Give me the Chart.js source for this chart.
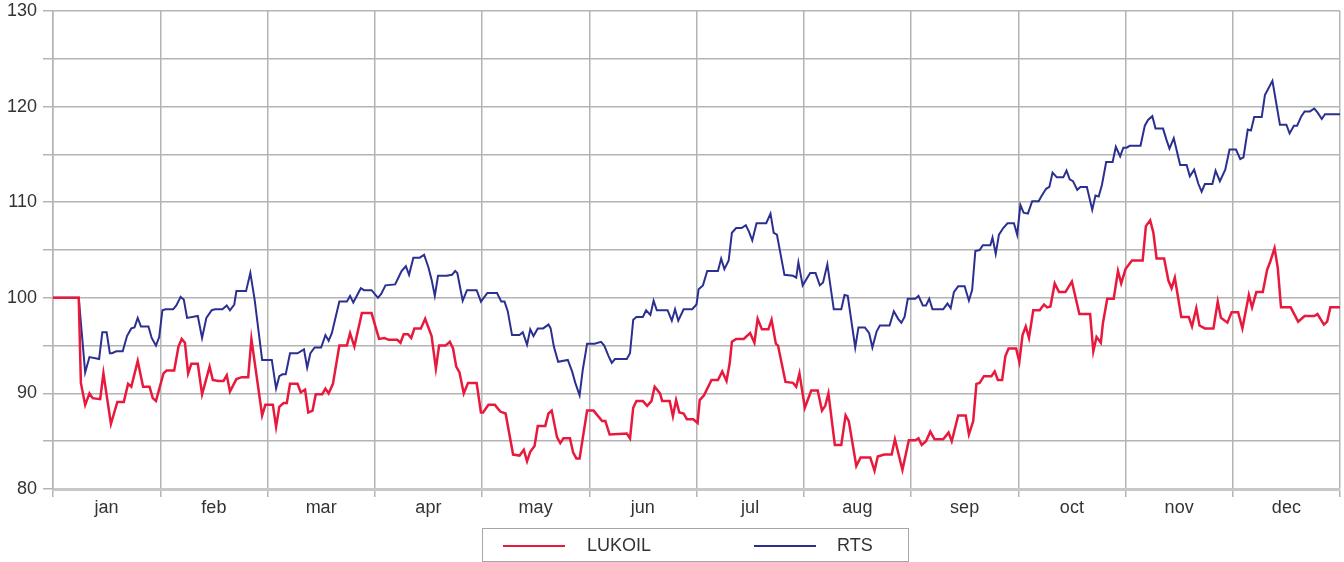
<!DOCTYPE html>
<html><head><meta charset="utf-8">
<script src="https://cdn.jsdelivr.net/npm/chart.js@4.4.0/dist/chart.umd.min.js"></script>
<style>
html,body{margin:0;padding:0;background:#fff;}
#wrap{position:relative;width:1344px;height:562px;}
#legend{position:absolute;left:482px;top:528px;width:427px;height:34px;border:1px solid #a6a6a6;box-sizing:border-box;font:18px "Liberation Sans",Arial,sans-serif;color:#333;}
#legend .ln{position:absolute;top:16px;width:62px;height:2px;}
#legend .tx{position:absolute;top:5px;line-height:22px;}
</style>
</head><body>
<div id="wrap">
<canvas id="c" width="1344" height="562"></canvas>
<div id="legend">
  <div class="ln" style="left:20px;background:#e8193c;"></div><div class="tx" style="left:104px;">LUKOIL</div>
  <div class="ln" style="left:271px;background:#2b3090;"></div><div class="tx" style="left:354px;">RTS</div>
</div>
</div>
<script>
const months = ['jan','feb','mar','apr','may','jun','jul','aug','sep','oct','nov','dec'];
const yMin = 80, yMax = 130, yStep = 5;

const lukoilX = [0.00,0.24,0.26,0.30,0.34,0.37,0.44,0.47,0.54,0.60,
0.66,0.70,0.73,0.79,0.84,0.90,0.93,0.96,1.03,1.06,
1.13,1.17,1.20,1.23,1.26,1.29,1.35,1.39,1.46,1.49,
1.54,1.59,1.62,1.65,1.71,1.76,1.82,1.85,1.95,1.98,
2.05,2.08,2.11,2.15,2.18,2.21,2.28,2.31,2.35,2.38,
2.42,2.45,2.51,2.54,2.57,2.61,2.67,2.74,2.77,2.81,
2.88,2.97,3.04,3.09,3.13,3.21,3.24,3.27,3.31,3.34,
3.37,3.43,3.47,3.53,3.57,3.60,3.66,3.70,3.73,3.76,
3.79,3.83,3.87,3.95,3.99,4.01,4.06,4.12,4.17,4.22,
4.29,4.35,4.39,4.42,4.45,4.49,4.52,4.59,4.62,4.65,
4.70,4.73,4.76,4.82,4.85,4.88,4.91,4.98,5.04,5.12,
5.15,5.19,5.35,5.38,5.41,5.44,5.50,5.54,5.58,5.61,
5.66,5.68,5.75,5.78,5.81,5.84,5.88,5.91,5.97,6.01,
6.03,6.07,6.14,6.20,6.24,6.28,6.31,6.33,6.37,6.44,
6.50,6.54,6.57,6.61,6.67,6.70,6.74,6.76,6.83,6.90,
6.93,6.96,7.01,7.07,7.13,7.17,7.20,7.23,7.29,7.35,
7.39,7.42,7.49,7.53,7.62,7.66,7.69,7.75,7.82,7.85,
7.92,7.98,8.04,8.07,8.10,8.14,8.18,8.22,8.30,8.35,
8.38,8.44,8.51,8.54,8.58,8.61,8.64,8.68,8.75,8.78,
8.81,8.85,8.88,8.91,8.98,9.01,9.04,9.07,9.10,9.14,
9.20,9.24,9.27,9.30,9.34,9.38,9.44,9.50,9.57,9.67,
9.70,9.73,9.77,9.79,9.83,9.89,9.93,9.96,10.00,10.06,
10.16,10.19,10.23,10.26,10.29,10.36,10.40,10.43,10.46,10.52,
10.59,10.62,10.66,10.69,10.74,10.82,10.86,10.89,10.95,10.99,
11.05,11.09,11.15,11.18,11.22,11.28,11.32,11.35,11.39,11.42,
11.45,11.54,11.61,11.67,11.76,11.79,11.85,11.88,11.91,12.00];

const lukoilY = [100,100,91.1,88.8,90.0,89.5,89.4,92.1,86.8,89.1,
89.1,91.0,90.7,93.4,90.7,90.7,89.5,89.2,92.1,92.4,
92.4,94.9,95.7,95.3,92.1,93.1,93.1,89.9,92.8,91.4,
91.3,91.3,91.9,90.2,91.5,91.7,91.7,95.7,87.7,88.8,
88.8,86.5,88.6,89.0,89.0,91.0,91.0,90.1,90.4,88.0,
88.2,89.9,89.9,90.5,90.0,91.0,95.0,95.0,96.3,94.9,
98.4,98.4,95.7,95.8,95.6,95.6,95.3,96.2,96.2,95.8,
96.8,96.8,97.8,96.0,92.6,95.0,95.0,95.4,94.7,92.8,
92.2,90.0,91.1,91.1,88.0,88.0,88.8,88.8,88.1,87.9,
83.6,83.5,84.1,82.9,83.9,84.5,86.6,86.6,87.9,88.2,
85.4,84.8,85.3,85.3,83.8,83.2,83.2,88.2,88.2,87.1,
87.1,85.7,85.8,85.3,88.5,89.2,89.2,88.7,89.2,90.7,
90.0,89.2,89.2,87.6,89.3,88.0,87.9,87.3,87.3,86.9,
89.3,89.8,91.4,91.4,92.3,91.3,93.2,95.4,95.7,95.7,
96.3,95.3,97.8,96.7,96.7,97.7,95.2,95.0,91.2,91.1,
90.7,92.1,88.5,90.3,90.3,88.2,88.7,90.0,84.6,84.6,
87.7,87.1,82.4,83.3,83.3,81.9,83.4,83.6,83.6,85.2,
82.0,85.1,85.1,85.3,84.6,85.0,86.0,85.2,85.2,85.9,
85.0,87.7,87.7,85.7,87.1,91.0,91.1,91.8,91.8,92.3,
91.4,91.4,93.9,94.7,94.7,93.3,96.1,97.0,95.8,98.7,
98.7,99.3,99.0,99.1,101.5,100.6,100.6,101.7,98.3,98.3,
94.4,95.9,95.3,97.4,99.9,99.9,102.8,101.5,103.0,103.9,
103.9,107.5,108.1,106.8,104.1,104.1,101.8,101.0,102.1,98.0,
98.0,97.0,98.9,97.1,96.8,96.8,99.6,97.9,97.4,98.5,
98.5,96.8,100.3,99.0,100.6,100.6,102.9,103.8,105.2,103.1,
99.0,99.0,97.5,98.1,98.1,98.3,97.2,97.5,99.0,99.0];

const rtsX = [0.00,0.24,0.30,0.34,0.43,0.46,0.50,0.53,0.55,0.59,
0.65,0.69,0.73,0.76,0.79,0.82,0.89,0.92,0.96,0.99,
1.02,1.05,1.12,1.15,1.19,1.22,1.25,1.35,1.39,1.43,
1.48,1.51,1.58,1.62,1.65,1.69,1.71,1.80,1.84,1.88,
1.95,2.04,2.08,2.11,2.14,2.17,2.21,2.28,2.34,2.37,
2.40,2.44,2.50,2.54,2.57,2.60,2.64,2.67,2.74,2.77,
2.80,2.87,2.90,2.97,3.03,3.06,3.10,3.19,3.22,3.25,
3.29,3.32,3.36,3.42,3.46,3.50,3.53,3.56,3.59,3.67,
3.72,3.75,3.77,3.82,3.86,3.95,3.99,4.05,4.14,4.18,
4.21,4.24,4.28,4.35,4.38,4.42,4.45,4.48,4.52,4.57,
4.62,4.64,4.67,4.71,4.80,4.84,4.87,4.91,4.94,4.98,
5.05,5.11,5.14,5.18,5.21,5.24,5.35,5.38,5.41,5.44,
5.50,5.53,5.57,5.60,5.63,5.73,5.77,5.80,5.83,5.88,
5.96,6.00,6.02,6.06,6.10,6.20,6.23,6.26,6.30,6.33,
6.37,6.42,6.46,6.49,6.52,6.56,6.65,6.69,6.72,6.75,
6.79,6.82,6.90,6.93,6.95,6.99,7.06,7.11,7.15,7.18,
7.22,7.28,7.35,7.38,7.41,7.48,7.51,7.57,7.61,7.64,
7.68,7.71,7.80,7.84,7.88,7.91,7.94,7.97,8.04,8.07,
8.11,8.14,8.17,8.20,8.30,8.34,8.37,8.40,8.44,8.50,
8.54,8.57,8.60,8.64,8.67,8.74,8.76,8.79,8.82,8.86,
8.90,8.96,8.99,9.02,9.05,9.09,9.13,9.19,9.22,9.26,
9.29,9.32,9.36,9.42,9.45,9.48,9.51,9.55,9.58,9.64,
9.69,9.72,9.75,9.78,9.82,9.88,9.91,9.95,9.98,10.01,
10.04,10.14,10.18,10.21,10.25,10.28,10.35,10.38,10.41,10.45,
10.51,10.57,10.60,10.64,10.68,10.71,10.74,10.81,10.84,10.88,
10.93,10.97,11.03,11.07,11.10,11.14,11.17,11.20,11.27,11.30,
11.37,11.44,11.50,11.53,11.57,11.60,11.64,11.67,11.72,11.76,
11.79,11.83,11.86,12.00];

const rtsY = [100,100,92.2,93.8,93.6,96.4,96.4,94.2,94.2,94.4,
94.4,96.0,96.8,96.9,97.9,97.0,97.0,95.8,95.0,95.9,
98.7,98.8,98.8,99.2,100.1,99.8,97.9,98.1,95.8,97.9,
98.7,98.8,98.8,99.2,98.7,99.3,100.7,100.7,102.6,99.8,
93.5,93.5,90.5,91.8,92.0,92.0,94.2,94.2,94.6,92.7,
94.2,94.8,94.8,96.1,95.5,96.3,98.2,99.6,99.6,100.2,
99.5,101.0,100.8,100.8,100.0,100.4,101.3,101.4,102.1,102.8,
103.3,102.4,104.2,104.2,104.5,103.2,101.9,100.2,102.3,102.3,
102.4,102.8,102.6,99.7,100.8,100.8,99.6,100.5,100.5,99.6,
99.6,98.6,96.1,96.1,96.4,95.1,96.7,96.0,96.8,96.8,
97.2,96.8,94.9,93.3,93.5,92.3,91.1,89.8,92.5,95.2,
95.2,95.4,95.0,93.9,93.2,93.6,93.6,94.2,97.7,98.0,
98.0,98.7,98.2,99.7,98.7,98.7,97.6,98.8,97.6,98.8,
98.8,99.3,100.9,101.3,102.8,102.8,104.1,103.0,103.9,106.8,
107.3,107.3,107.6,106.9,106.0,107.8,107.8,108.8,106.8,106.6,
104.2,102.4,102.3,102.1,103.7,101.3,102.6,102.6,101.3,101.6,
103.5,98.8,98.8,100.3,100.2,94.8,96.9,96.9,96.3,94.8,
96.5,97.1,97.1,98.6,97.8,97.4,98.0,99.9,99.9,100.2,
99.2,99.2,99.9,98.8,98.8,99.4,98.9,100.6,101.2,101.2,
99.7,100.8,104.9,105.0,105.5,105.5,106.3,104.6,106.6,107.3,
107.8,107.8,106.6,109.7,108.9,108.8,110.1,110.1,110.7,111.4,
111.6,113.1,112.6,112.6,113.3,112.4,112.2,111.3,111.6,111.6,
109.2,110.7,110.6,111.8,114.2,114.2,115.8,114.8,115.7,115.7,
115.9,115.9,118.0,118.6,119.0,117.7,117.7,116.6,115.6,116.7,
113.9,113.9,112.7,113.4,111.9,111.1,111.9,111.9,113.3,112.2,
113.4,115.5,115.5,114.5,114.7,117.6,117.5,118.9,118.9,121.2,
122.7,118.1,118.1,117.2,118.0,118.0,119.0,119.5,119.5,119.8,
119.4,118.7,119.2,119.2];

const pts = (xs, ys) => xs.map((x, i) => ({x: x, y: ys[i]}));
const gridCol = '#b4b4b4';
const tickFont = {family: '"Liberation Sans", Arial, sans-serif', size: 18};

new Chart(document.getElementById('c'), {
  type: 'line',
  data: {
    datasets: [
      {label: 'LUKOIL', data: pts(lukoilX, lukoilY), borderColor: '#e8193c', borderWidth: 2.5, pointRadius: 0, tension: 0, fill: false},
      {label: 'RTS', data: pts(rtsX, rtsY), borderColor: '#2b3090', borderWidth: 2, pointRadius: 0, tension: 0, fill: false}
    ]
  },
  options: {
    responsive: false,
    animation: false,
    layout: {padding: {top: 11, right: 4, left: 0, bottom: 43}},
    plugins: {legend: {display: false}, tooltip: {enabled: false}},
    scales: {
      x: {
        type: 'linear', min: 0, max: months.length,
        afterBuildTicks: s => { const t = []; for (let i = 0; i <= months.length * 2; i++) t.push({value: i / 2}); s.ticks = t; },
        afterFit: s => { s.height = 30; s.paddingLeft = 0; s.paddingRight = 0; },
        grid: {
          color: c => (c.tick && Number.isInteger(c.tick.value)) ? gridCol : 'rgba(0,0,0,0)',
          tickColor: c => (c.tick && Number.isInteger(c.tick.value)) ? gridCol : 'rgba(0,0,0,0)',
          lineWidth: 1.5, tickLength: 8
        },
        border: {color: '#c8c8c8', width: 3},
        ticks: {autoSkip: false, maxRotation: 0, minRotation: 0, padding: 0, color: '#333', font: tickFont,
          callback: v => Number.isInteger(v) ? '' : months[Math.floor(v)]}
      },
      y: {
        min: yMin, max: yMax,
        afterFit: s => { s.width = 53; s.paddingTop = 0; s.paddingBottom = 0; },
        grid: {color: gridCol, tickColor: gridCol, lineWidth: 1.5, tickLength: 10},
        border: {color: gridCol, width: 1.5},
        ticks: {stepSize: yStep, padding: 6, color: '#333', font: tickFont,
          callback: v => (v % 10 === 0) ? String(v) : ''}
      }
    }
  }
});
</script>
</body></html>
